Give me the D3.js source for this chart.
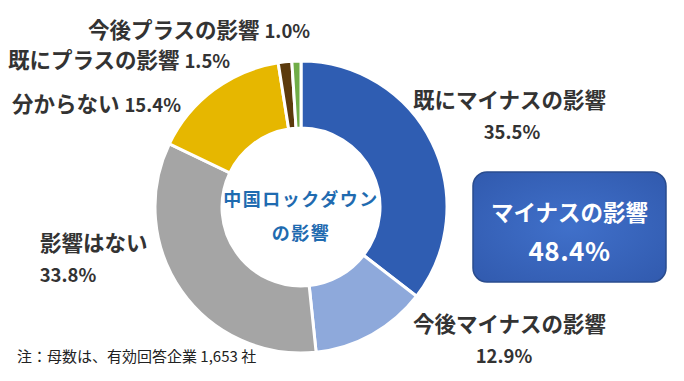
<!DOCTYPE html>
<html><head><meta charset="utf-8">
<script src="https://cdn.jsdelivr.net/npm/d3@7"></script>
<style>
html,body{margin:0;padding:0;background:#fff;}
svg{display:block;font-family:"Noto Sans CJK JP","Noto Sans",sans-serif;}
</style></head>
<body><svg id="c" width="684" height="381"></svg>
<script>
const categories = ["既にマイナスの影響","今後マイナスの影響","影響はない","分からない","既にプラスの影響","今後プラスの影響"];
const values = [35.5, 12.9, 33.8, 15.4, 1.5, 1.0];
const colors = ["url(#gBlue)","#8EA9DB","#A5A5A5","#E6B700","#5B3A0C","#70AD47"];
const centerTitle = ["中国ロックダウン","の影響"];
const boxTitle = "マイナスの影響";
const boxValue = 48.4;
const footnote = "注：母数は、有効回答企業 1,653 社";

const svg = d3.select("#c");
const cx = 301, cy = 207, rOut = 146, rIn = 79;
const defs = svg.append("defs");
const gb = defs.append("radialGradient").attr("id","gBlue")
  .attr("gradientUnits","userSpaceOnUse").attr("cx",cx).attr("cy",cy).attr("r",rOut);
gb.append("stop").attr("offset","0.5").attr("stop-color","#3565BC");
gb.append("stop").attr("offset","0.75").attr("stop-color","#4679CF");
gb.append("stop").attr("offset","1").attr("stop-color","#2F5DB2");
const gbox = defs.append("radialGradient").attr("id","gBox").attr("cx","50%").attr("cy","50%").attr("r","70%");
gbox.append("stop").attr("offset","0").attr("stop-color","#4070CA");
gbox.append("stop").attr("offset","1").attr("stop-color","#315AAE");

const pie = d3.pie().sort(null).value(d=>d);
const arc = d3.arc().innerRadius(rIn).outerRadius(rOut);
const g = svg.append("g").attr("transform",`translate(${cx},${cy})`);
g.selectAll("path").data(pie(values)).join("path")
  .attr("d",arc).attr("fill",(d,i)=>colors[i])
  .attr("stroke","#fff").attr("stroke-width",3).attr("stroke-linejoin","miter");

// center text
g.append("text").attr("text-anchor","middle").attr("y",-1)
  .attr("font-size",18).attr("font-weight","bold").attr("fill","#1F6BB0")
  .attr("letter-spacing",1.5).text(centerTitle[0]);
g.append("text").attr("text-anchor","middle").attr("y",33)
  .attr("font-size",18).attr("font-weight","bold").attr("fill","#1F6BB0")
  .attr("letter-spacing",1.5).text(centerTitle[1]);

const fmt = v => v.toFixed(1)+"%";
const lab = svg.append("g").attr("fill","#333").attr("font-weight","bold").attr("font-size",21.5);
const numSize = 18.5;
const layout = [
  {i:0, x:413, y:108, two:true, vx:512},
  {i:1, x:413, y:332, two:true, vx:504},
  {i:2, x:40, y:251, two:true, vx:68},
  {i:3, x:12, y:112},
  {i:4, x:8, y:68},
  {i:5, x:88, y:38}
];
layout.forEach(l=>{
  if(l.two){
    lab.append("text").attr("x",l.x).attr("y",l.y).text(categories[l.i]);
    lab.append("text").attr("x",l.vx).attr("y",l.y+31).attr("text-anchor","middle")
      .attr("font-size",numSize).text(fmt(values[l.i]));
  } else {
    const t = lab.append("text").attr("x",l.x).attr("y",l.y);
    t.append("tspan").text(categories[l.i]+" ");
    t.append("tspan").attr("font-size",numSize).text(fmt(values[l.i]));
  }
});

// box
svg.append("rect").attr("x",473).attr("y",172).attr("width",193).attr("height",110)
  .attr("rx",14).attr("fill","url(#gBox)").attr("stroke","#2A4C8E").attr("stroke-width",1.5);
svg.append("text").attr("x",569.5).attr("y",221).attr("text-anchor","middle")
  .attr("fill","#fff").attr("font-weight","bold").attr("font-size",22.5).text(boxTitle);
svg.append("text").attr("x",569.5).attr("y",261).attr("text-anchor","middle")
  .attr("fill","#fff").attr("font-weight","bold").attr("font-size",26).attr("letter-spacing",0.5).text(fmt(boxValue));

svg.append("text").attr("x",17).attr("y",362).attr("font-size",15).attr("fill","#222").text(footnote);
</script></body></html>
